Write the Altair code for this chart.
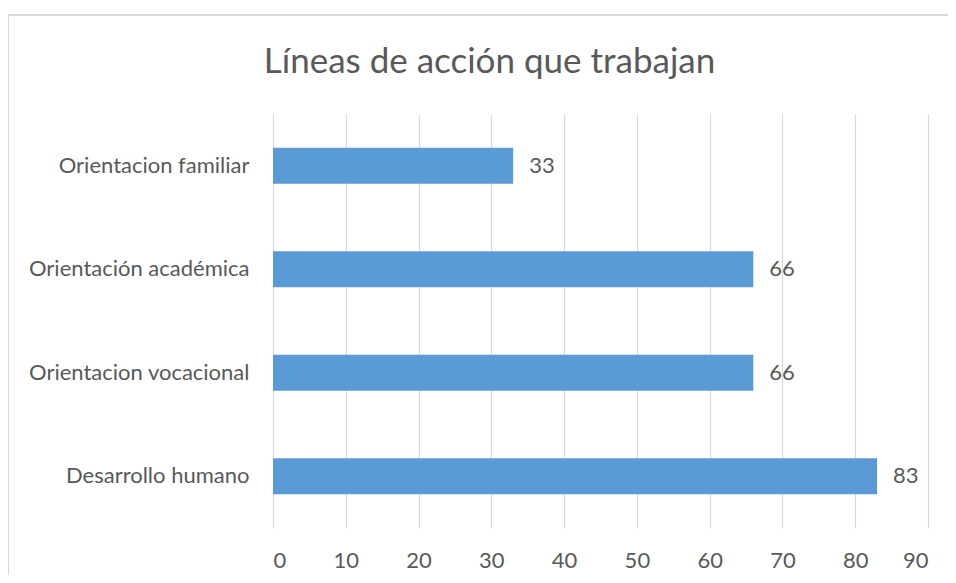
import altair as alt
import pandas as pd

categories = ["Orientacion familiar", "Orientación académica", "Orientacion vocacional", "Desarrollo humano"]
values = [33, 66, 66, 83]
x_ticks = [0, 10, 20, 30, 40, 50, 60, 70, 80, 90]
title_text = "Líneas de acción que trabajan"

df = pd.DataFrame({"cat": categories, "val": values})

FONT = "Lato"
GRAY = "#595959"

x_enc = alt.X(
    "val:Q",
    scale=alt.Scale(domain=[0, 90], nice=False),
    axis=alt.Axis(
        values=x_ticks, title=None, grid=True, gridColor="#D9D9D9", gridWidth=1.2,
        ticks=False, domain=False, labelPadding=32, labelBaseline="middle",
        labelFont=FONT, labelFontSize=22, labelColor=GRAY,
    ),
)
y_enc = alt.Y(
    "cat:N",
    sort=categories,
    scale=alt.Scale(paddingInner=0.652, paddingOuter=0.326),
    axis=alt.Axis(
        title=None, ticks=False, domain=False, grid=False, labelPadding=24,
        labelFont=FONT, labelFontSize=22, labelColor=GRAY, labelLimit=400,
    ),
)

bars = alt.Chart(df).mark_bar(color="#5B9BD5").encode(x=x_enc, y=y_enc)
labels = alt.Chart(df).mark_text(
    align="left", baseline="middle", dx=16, font=FONT, fontSize=22, color=GRAY
).encode(x=alt.X("val:Q"), y=alt.Y("cat:N", sort=categories), text="val:Q")

frame = alt.Chart(df).mark_rect(fill=None, stroke="#D9D9D9", strokeWidth=1.5).encode(
    x=alt.value(-265), x2=alt.value(700), y=alt.value(-99), y2=alt.value(500)
)

chart = (
    alt.layer(frame, bars, labels)
    .properties(
        width=655,
        height=414,
        background="white",
        autosize=alt.AutoSizeParams(type="none"),
        padding={"left": 265, "top": 106, "right": 20, "bottom": 47},
        title=alt.TitleParams(
            text=title_text, anchor="middle", dx=-111, offset=-94, baseline="alphabetic",
            font=FONT, fontSize=35, fontWeight="normal", color=GRAY,
        ),
    )
    .configure_view(stroke="transparent", strokeWidth=0)
)

chart.save("out.html", embed_options={"renderer": "svg", "actions": False})
